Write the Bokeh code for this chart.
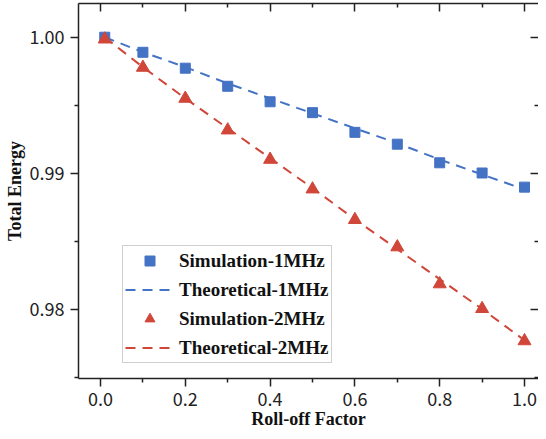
from bokeh.plotting import figure
from bokeh.models import LinearAxis, FixedTicker, Range1d
from bokeh.embed import file_html
from bokeh.resources import INLINE

# ---- data ----
roll_off = [0.01, 0.1, 0.2, 0.3, 0.4, 0.5, 0.6, 0.7, 0.8, 0.9, 1.0]
sim_1mhz = [1.0000, 0.99889, 0.99772, 0.99639, 0.99525, 0.99445, 0.99300, 0.99213, 0.99076, 0.99001, 0.98897]
theo_1mhz = [1.0000, 0.9989, 0.9978, 0.9966, 0.9955, 0.9944, 0.9933, 0.9922, 0.9910, 0.9899, 0.9888]
sim_2mhz = [0.99985, 0.99777, 0.99549, 0.99316, 0.99100, 0.98882, 0.98657, 0.98456, 0.98184, 0.98002, 0.97765]
theo_2mhz = [1.0000, 0.9978, 0.9955, 0.9933, 0.9911, 0.9889, 0.9866, 0.9844, 0.9822, 0.9800, 0.9777]

x_major = [0.0, 0.2, 0.4, 0.6, 0.8, 1.0]
x_minor = [0.1, 0.3, 0.5, 0.7, 0.9]
x_labels = ["0.0", "0.2", "0.4", "0.6", "0.8", "1.0"]
y_major = [0.98, 0.99, 1.00]
y_minor = [0.975, 0.985, 0.995]
y_labels = ["0.98", "0.99", "1.00"]

BLUE = "#4472C4"
RED = "#D0473A"
AXIS = "#222222"
TICK_FONT = "Noto Sans CJK SC"
SERIF = "Liberation Serif"

p = figure(width=538, height=431,
           x_range=Range1d(-0.0519, 1.033), y_range=Range1d(0.97489, 1.00248),
           output_backend="svg", toolbar_location=None,
           min_border_left=78, min_border_right=0, min_border_top=3, min_border_bottom=50)
p.grid.visible = False
p.outline_line_color = None
p.background_fill_color = "white"
p.border_fill_color = "white"

p.line(roll_off, theo_1mhz, line_color=BLUE, line_width=2, line_dash="10 7", legend_label="Theoretical-1MHz")
p.line(roll_off, theo_2mhz, line_color=RED, line_width=2, line_dash="10 7", legend_label="Theoretical-2MHz")
p.scatter(roll_off, sim_1mhz, marker="square", size=10, fill_color=BLUE, line_color=BLUE, legend_label="Simulation-1MHz")
p.scatter(roll_off, sim_2mhz, marker="triangle", size=13, fill_color=RED, line_color=RED, legend_label="Simulation-2MHz")

def style_axis(ax, ticks, minor, labels, inward, show_labels=True):
    ax.ticker = FixedTicker(ticks=ticks, minor_ticks=minor)
    ax.axis_line_color = AXIS
    ax.axis_line_width = 1.5
    ax.major_tick_line_color = AXIS
    ax.minor_tick_line_color = AXIS
    ax.major_tick_line_width = 1.5
    ax.minor_tick_line_width = 1.5
    if inward:
        ax.major_tick_in = 8
        ax.major_tick_out = 0
        ax.minor_tick_in = 4
        ax.minor_tick_out = 0
    else:
        ax.major_tick_in = 0
        ax.major_tick_out = 8
        ax.minor_tick_in = 0
        ax.minor_tick_out = 4
    if show_labels:
        ax.major_label_overrides = dict(zip(ticks, labels))
        ax.major_label_text_font = TICK_FONT
        ax.major_label_text_font_size = "18px"
        ax.major_label_text_color = "#222222"
        ax.major_label_standoff = 6
    else:
        ax.major_label_overrides = {t: "" for t in ticks}
        ax.major_label_text_font_size = "1px"
        ax.major_label_text_color = None
        ax.major_label_standoff = 0

xa = p.xaxis[0]
style_axis(xa, x_major, x_minor, x_labels, inward=False)
xa.major_label_standoff = 5
xa.axis_label = "Roll-off Factor"
xa.axis_label_text_font = SERIF
xa.axis_label_text_font_style = "bold"
xa.axis_label_text_font_size = "18px"
xa.axis_label_text_color = "#111111"
xa.axis_label_text_line_height = 1.0
xa.axis_label_standoff = 0

ya = p.yaxis[0]
style_axis(ya, y_major, y_minor, y_labels, inward=False)
ya.axis_label = "Total Energy"
ya.axis_label_text_font = SERIF
ya.axis_label_text_font_style = "bold"
ya.axis_label_text_font_size = "18px"
ya.axis_label_text_color = "#111111"
ya.axis_label_standoff = 2

top = LinearAxis()
style_axis(top, x_major, x_minor, x_labels, inward=True, show_labels=False)
p.add_layout(top, "above")

right = LinearAxis()
style_axis(right, y_major, y_minor, y_labels, inward=True, show_labels=False)
right.axis_line_color = None
p.add_layout(right, "right")

lg = p.legend[0]
items = lg.items
order = ["Simulation-1MHz", "Theoretical-1MHz", "Simulation-2MHz", "Theoretical-2MHz"]
lg.items = sorted(items, key=lambda it: order.index(it.label.value))
lg.location = (44, 15)
lg.label_text_font = SERIF
lg.label_text_font_style = "bold"
lg.label_text_font_size = "19px"
lg.label_text_color = "#111111"
lg.glyph_width = 49
lg.glyph_height = 25
lg.spacing = 4
lg.padding = 2
lg.margin = 0
lg.label_standoff = 5
lg.border_line_color = "#A0A0A0"
lg.border_line_width = 1.5
lg.background_fill_color = "white"
lg.background_fill_alpha = 1.0

open("out.html", "w").write(file_html(p, INLINE))
